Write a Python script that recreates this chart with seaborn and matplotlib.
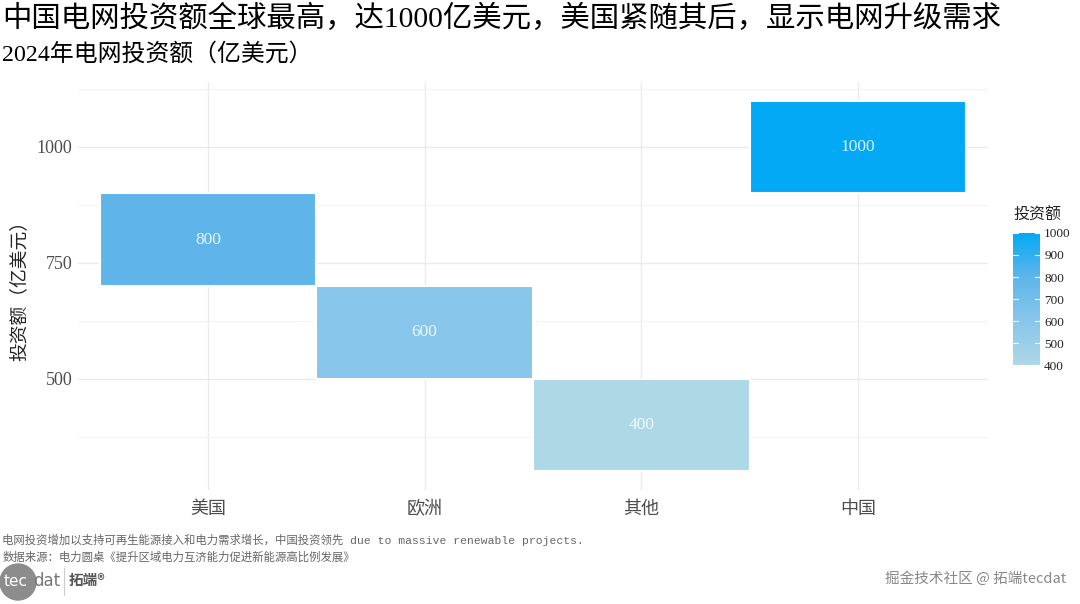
import numpy as np
import matplotlib
matplotlib.use("Agg")
import matplotlib.pyplot as plt
import seaborn as sns
from matplotlib.colors import LinearSegmentedColormap, Normalize
from matplotlib.patches import Ellipse

# data
regions = ["美国", "欧洲", "其他", "中国"]
investment = [800, 600, 400, 1000]
cbar_ticks = [400, 500, 600, 700, 800, 900, 1000]

title = "中国电网投资额全球最高，达1000亿美元，美国紧随其后，显示电网升级需求"
subtitle = "2024年电网投资额（亿美元）"
caption1 = "电网投资增加以支持可再生能源接入和电力需求增长，中国投资领先 due to massive renewable projects."
caption2 = "数据来源：电力圆桌《提升区域电力互济能力促进新能源高比例发展》"

sns.set_style("white")
plt.rcParams['font.family'] = ['Liberation Serif', 'Noto Sans CJK SC']
plt.rcParams['axes.unicode_minus'] = False

cmap = LinearSegmentedColormap.from_list(
    "blues", ["#ADD8E6", "#88C6EB", "#5FB5EA", "#03A9F4"])
norm = Normalize(vmin=400, vmax=1000)

fig = plt.figure(figsize=(10.8, 6.04), dpi=100)
ax = fig.add_axes([78 / 1080, 114 / 604, 910 / 1080, 408 / 604])

vals = np.array(investment)
ax.bar(regions, 200, bottom=vals - 100, width=1.0,
       color=[cmap(norm(v)) for v in vals], edgecolor="white",
       linewidth=1.5, zorder=2)
for i, v in enumerate(vals):
    ax.text(i, v, str(v), ha="center", va="center", color="white",
            fontsize=12.5, alpha=0.85, zorder=3)

ax.set_xlim(-0.6, 3.6)
ax.set_ylim(260, 1140)
ax.set_yticks([500, 750, 1000])
ax.set_yticks([375, 625, 875, 1125], minor=True)
ax.grid(True, which="major", color="#EBEBEB", linewidth=1.0, zorder=0)
ax.grid(True, which="minor", axis="y", color="#F3F3F3", linewidth=0.8, zorder=0)
ax.set_axisbelow(True)
for s in ax.spines.values():
    s.set_visible(False)
ax.tick_params(axis="both", which="both", length=0, labelcolor="#4D4D4D",
               labelsize=13)
ax.tick_params(axis="x", pad=8)
ax.tick_params(axis="y", pad=4)
ax.set_xlabel("")
ax.set_ylabel("投资额（亿美元）", fontsize=13.5, color="#222222", labelpad=6)

# colorbar
cax = fig.add_axes([1013 / 1080, 239 / 604, 27 / 1080, 132 / 604])
sm = plt.cm.ScalarMappable(norm=norm, cmap=cmap)
cb = fig.colorbar(sm, cax=cax, ticks=cbar_ticks)
cb.outline.set_visible(False)
cb.ax.tick_params(length=0, labelsize=9.5, labelcolor="#222222", pad=3)
for t in cbar_ticks:
    cax.plot([0, 0.2], [t, t], color="white", linewidth=0.8, transform=cax.get_yaxis_transform())
    cax.plot([0.8, 1.0], [t, t], color="white", linewidth=0.8, transform=cax.get_yaxis_transform())
fig.text(1013 / 1080, 1 - 216 / 604, "投资额", fontsize=11.5, color="#222222",
         ha="left", va="center")

# titles
fig.text(0.002, 1 - 19 / 604, title, fontsize=21.2, color="black",
         ha="left", va="center")
fig.text(0.002, 1 - 54 / 604, subtitle, fontsize=17.2, color="black",
         ha="left", va="center")

# captions
fig.text(0.002, 1 - 540 / 604, caption1, fontsize=8.2, color="#666666",
         ha="left", va="center", family=['Liberation Mono', 'Noto Sans CJK SC'])
fig.text(0.002, 1 - 557 / 604, caption2, fontsize=8.2, color="#666666",
         ha="left", va="center", family=['Liberation Mono', 'Noto Sans CJK SC'])

# logo
fig.patches.append(Ellipse((18 / 1080, 1 - 582 / 604), 36 / 1080, 36 / 604,
                           transform=fig.transFigure, color="#8C8C8C", zorder=1))
fig.text(4 / 1080, 1 - 581 / 604, "tec", fontsize=11, color="white", ha="left",
         va="center", family=['DejaVu Sans'], zorder=2)
fig.text(33 / 1080, 1 - 581 / 604, "dat", fontsize=12, color="#777777", ha="left",
         va="center", family=['DejaVu Sans'])
fig.lines.append(plt.Line2D([64 / 1080, 64 / 1080], [1 - 568 / 604, 1 - 595 / 604],
                            transform=fig.transFigure, color="#CCCCCC", linewidth=0.8))
fig.text(69 / 1080, 1 - 580 / 604, "拓端®", fontsize=10.5, color="#555555", ha="left",
         va="center", family=['Noto Sans CJK SC', 'DejaVu Sans'], weight="bold")

fig.text(1 - 14 / 1080, 1 - 579 / 604, "掘金技术社区 @ 拓端tecdat", fontsize=10.5,
         color="#888888", ha="right", va="center",
         family=['Noto Sans CJK SC', 'DejaVu Sans'])

fig.savefig("out.png", dpi=100)
